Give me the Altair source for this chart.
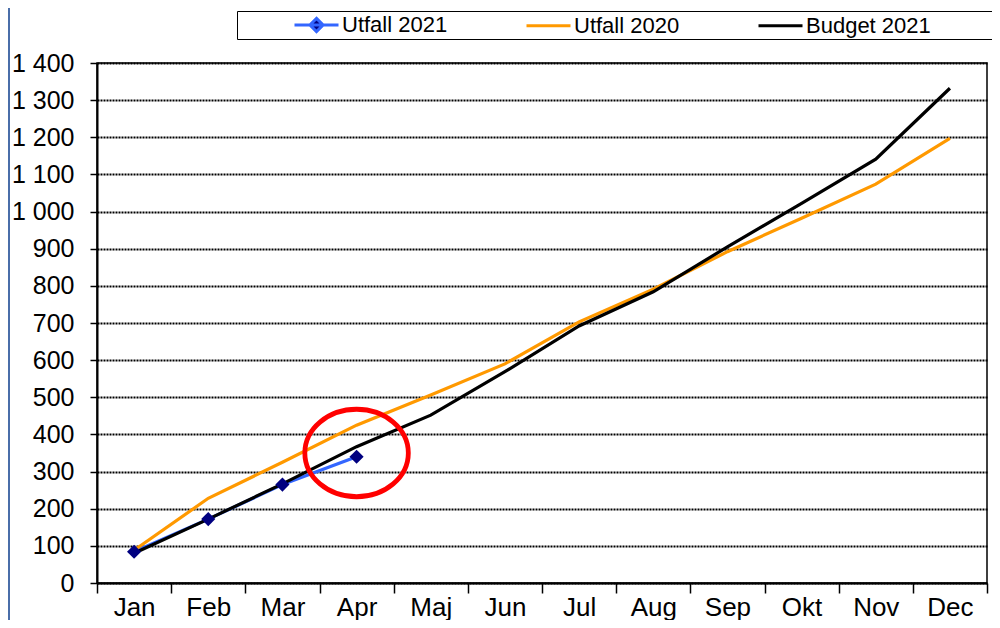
import altair as alt
import pandas as pd

months = ["Jan", "Feb", "Mar", "Apr", "Maj", "Jun", "Jul", "Aug", "Sep", "Okt", "Nov", "Dec"]
utfall_2021 = [84, 172, 265, 340]
utfall_2020 = [88, 228, 325, 425, 506, 590, 703, 791, 892, 982, 1074, 1197]
budget_2021 = [80, 172, 267, 367, 452, 569, 692, 784, 905, 1022, 1141, 1332]
series_names = ["Utfall 2021", "Utfall 2020", "Budget 2021"]
series_colors = ["#3366FF", "#FF9900", "#000000"]
y_ticks = list(range(0, 1401, 100))
annot_month = ["Apr"]
annot_value = [350]

rows = []
for name, vals in zip(series_names, [utfall_2021, utfall_2020, budget_2021]):
    for m, v in zip(months, vals):
        rows.append({"month": m, "value": v, "series": name})
df = pd.DataFrame(rows)
annot = pd.DataFrame({"month": annot_month, "value": annot_value})
frame = pd.DataFrame({"k": [0]})

W, H = 890, 520
FONT = "Liberation Sans"

x_enc = alt.X(
    "month:N",
    sort=months,
    scale=alt.Scale(type="band", domain=months, paddingInner=0, paddingOuter=0),
    axis=alt.Axis(
        title=None, labelAngle=0, labelFont=FONT, labelFontSize=26, labelColor="black",
        labelBaseline="alphabetic", labelPadding=22,
        tickBand="extent", tickSize=10, tickColor="black", tickWidth=1.5,
        domainColor="black", domainWidth=2, grid=False,
    ),
)
y_enc = alt.Y(
    "value:Q",
    scale=alt.Scale(domain=[0, 1400], nice=False, zero=True),
    axis=alt.Axis(
        title=None, values=y_ticks, labelFont=FONT, labelFontSize=25, labelColor="black",
        labelPadding=16, labelExpr="replace(format(datum.value, ','), ',', ' ')",
        tickSize=7, tickColor="black", tickWidth=1.5,
        domainColor="black", domainWidth=2,
        grid=True, gridColor="black", gridDash=[2, 1], gridWidth=2,
    ),
)
color_scale = alt.Scale(domain=series_names, range=series_colors)
color_nolegend = alt.Color("series:N", scale=color_scale, legend=None)

trail = "\u2002" * 12 + "\u200b"
pad_expr = "indexof(datum.label, 'Budget') >= 0 ? datum.label + '" + trail + "' : datum.label"
leg = alt.Legend(
    title=None, orient="none", legendX=140, legendY=-52, direction="horizontal",
    strokeColor="black", fillColor="white", padding=1,
    labelFont=FONT, labelFontSize=22, labelColor="black", labelOffset=13,
    labelLimit=400, labelExpr=pad_expr,
    symbolOffset=66, symbolSize=484, symbolStrokeWidth=3, columnPadding=22,
)
legend_shapes = ["M-2,0H2M0,-0.6L0.6,0L0,0.6L-0.6,0Z", "M-2,0H2", "M-2,0H2"]

base = alt.Chart(df)

def line_for(name):
    return base.transform_filter(alt.datum.series == name).mark_line(strokeWidth=3.2).encode(
        x=x_enc, y=y_enc, color=color_nolegend
    )

diamonds = base.transform_filter(alt.datum.series == "Utfall 2021").mark_point(
    shape="diamond", filled=True, color="#000080", size=200, opacity=1
).encode(x=x_enc, y=y_enc)

legend_layer = base.transform_filter("datum.value < 0").mark_point(
    filled=False, fill="#000080", strokeWidth=3, size=484, opacity=1
).encode(
    x=x_enc, y=y_enc,
    color=alt.Color("series:N", scale=color_scale, legend=leg),
    shape=alt.Shape("series:N", scale=alt.Scale(domain=series_names, range=legend_shapes), legend=leg),
)

ellipse = alt.Chart(annot).mark_point(
    shape="M-1,0A1,0.845,0,1,1,1,0A1,0.845,0,1,1,-1,0Z",
    filled=False, stroke="#FF0000", strokeWidth=4.8, size=10712, opacity=1,
).encode(x=x_enc, y=y_enc)

left_frame = alt.Chart(frame).mark_rule(color="#4A6EA9", strokeWidth=2).encode(
    x=alt.value(-88), y=alt.value(-55), y2=alt.value(H + 37)
)

chart = alt.layer(
    left_frame,
    line_for("Utfall 2021"),
    line_for("Utfall 2020"),
    line_for("Budget 2021"),
    diamonds,
    ellipse,
    legend_layer,
).resolve_legend(
    color="independent", shape="independent"
).properties(
    width=W, height=H,
    padding={"left": 89, "top": 55, "right": 5, "bottom": 37},
    autosize=alt.AutoSizeParams(type="none"),
).configure_view(stroke="black", strokeWidth=1.5)

chart.save("out.html", embed_options={"renderer": "svg", "actions": False})
